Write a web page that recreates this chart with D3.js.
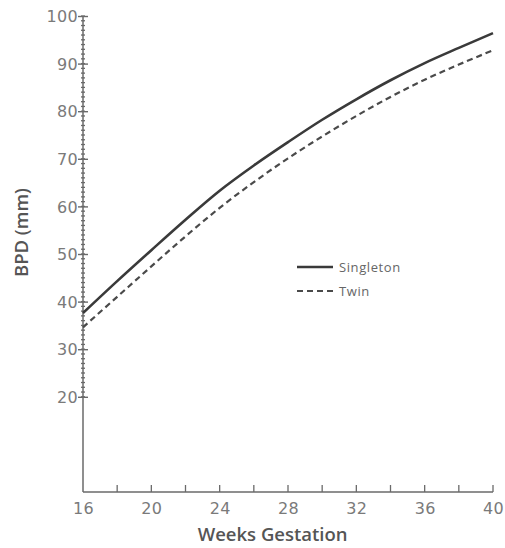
<!DOCTYPE html>
<html>
<head>
<meta charset="utf-8">
<script src="https://cdn.jsdelivr.net/npm/d3@7"></script>
<style>
  html, body { margin: 0; padding: 0; background: #fff; }
  svg { display: block; }
  text { font-family: "Open Sans", "DejaVu Sans", sans-serif; }
</style>
</head>
<body>
<svg id="chart" width="505" height="548"></svg>
<script>
// Gestational age (weeks) and mean biparietal diameter (mm)
const weeks = [16, 18, 20, 22, 24, 26, 28, 30, 32, 34, 36, 38, 40];
const singleton = [37.6, 44.3, 50.8, 57.2, 63.3, 68.6, 73.5, 78.2, 82.5, 86.5, 90.1, 93.3, 96.4];
const twin = [34.6, 41.0, 47.4, 53.7, 59.7, 65.1, 70.1, 74.7, 79.0, 83.0, 86.6, 89.8, 92.8];

const xTickLabels = [16, 20, 24, 28, 32, 36, 40];
const xMinorTicks = [18, 20, 22, 24, 26, 28, 30, 32, 34, 36, 38, 40];
const yTickLabels = [20, 30, 40, 50, 60, 70, 80, 90, 100];

const legendItems = [
  { name: "Singleton", dash: null },
  { name: "Twin", dash: "6,4" }
];

const svg = d3.select("#chart");
const plotLeft = 83, plotRight = 493, plotTop = 16, plotBottom = 492;

const x = d3.scaleLinear().domain([16, 40]).range([plotLeft, plotRight]);
const y = d3.scaleLinear().domain([0, 100]).range([plotBottom, plotTop]);

const axisColor = "#6a6a6a";
const labelColor = "#7a7a7a";

// Axis lines
svg.append("line")
  .attr("x1", x(16)).attr("x2", x(16))
  .attr("y1", y(100)).attr("y2", y(0))
  .attr("stroke", axisColor).attr("stroke-width", 1.5);
svg.append("line")
  .attr("x1", x(16)).attr("x2", x(40))
  .attr("y1", y(0)).attr("y2", y(0))
  .attr("stroke", axisColor).attr("stroke-width", 1.5);

// Dense 1 mm ticks on the y axis between 20 and 100
const minorY = d3.range(20, 101, 1);
svg.append("g").selectAll("line").data(minorY).join("line")
  .attr("x1", x(16) - 2).attr("x2", x(16) + 2)
  .attr("y1", d => y(d)).attr("y2", d => y(d))
  .attr("stroke", axisColor).attr("stroke-width", 1.3);

// Major y ticks and labels
const yAxis = d3.axisLeft(y).tickValues(yTickLabels).tickSize(0).tickPadding(0);
const gy = svg.append("g").attr("transform", `translate(${x(16)},0)`).call(yAxis);
gy.select(".domain").remove();
gy.selectAll(".tick line").remove();
gy.selectAll(".tick").append("line")
  .attr("x1", -5).attr("x2", 5)
  .attr("stroke", axisColor).attr("stroke-width", 1.4);
gy.selectAll(".tick text")
  .attr("x", -5)
  .attr("dy", "0.36em")
  .attr("fill", labelColor)
  .style("font-family", "'DejaVu Sans', sans-serif")
  .style("font-size", "16px")
  .style("letter-spacing", "0.3px");

// X ticks (every two weeks) and labels
const xAxis = d3.axisBottom(x).tickValues(xTickLabels).tickSize(0).tickPadding(0);
const gx = svg.append("g").attr("transform", `translate(0,${y(0)})`).call(xAxis);
gx.select(".domain").remove();
gx.selectAll(".tick line").remove();
gx.selectAll(".tick text")
  .attr("y", 16)
  .attr("dy", "0.36em")
  .attr("fill", labelColor)
  .style("font-family", "'DejaVu Sans', sans-serif")
  .style("font-size", "16px")
  .style("letter-spacing", "0.3px");
svg.append("g").selectAll("line").data(xMinorTicks).join("line")
  .attr("x1", d => x(d)).attr("x2", d => x(d))
  .attr("y1", y(0)).attr("y2", y(0) - 7)
  .attr("stroke", axisColor).attr("stroke-width", 1.3);

// Axis titles
svg.append("text")
  .attr("x", x(27.1)).attr("y", 541)
  .attr("text-anchor", "middle")
  .attr("fill", "#555")
  .style("font-size", "18.5px")
  .style("font-weight", "600")
  .text("Weeks Gestation");
svg.append("text")
  .attr("transform", `translate(28,${y(54.5)}) rotate(-90)`)
  .attr("text-anchor", "middle")
  .attr("fill", "#555")
  .style("font-size", "18.5px")
  .style("font-weight", "600")
  .text("BPD (mm)");

// Growth curves
const line = d3.line()
  .x((d, i) => x(weeks[i]))
  .y(d => y(d))
  .curve(d3.curveCatmullRom.alpha(0.5));

svg.append("path")
  .attr("d", line(singleton))
  .attr("fill", "none")
  .attr("stroke", "#3a3a3a")
  .attr("stroke-width", 2.6);
svg.append("path")
  .attr("d", line(twin))
  .attr("fill", "none")
  .attr("stroke", "#4a4a4a")
  .attr("stroke-width", 2.2)
  .attr("stroke-dasharray", "6,4");

// Legend
const legend = svg.append("g").attr("transform", "translate(297,267)");
legendItems.forEach((item, i) => {
  const g = legend.append("g").attr("transform", `translate(0,${i * 24})`);
  g.append("line")
    .attr("x1", 0).attr("x2", 36)
    .attr("stroke", i === 0 ? "#3a3a3a" : "#4a4a4a")
    .attr("stroke-width", i === 0 ? 2.4 : 2)
    .attr("stroke-dasharray", item.dash);
  g.append("text")
    .attr("x", 42).attr("dy", "0.36em")
    .attr("fill", "#666")
    .style("font-size", "13px")
    .style("letter-spacing", "0.6px")
    .text(item.name);
});
</script>
</body>
</html>
